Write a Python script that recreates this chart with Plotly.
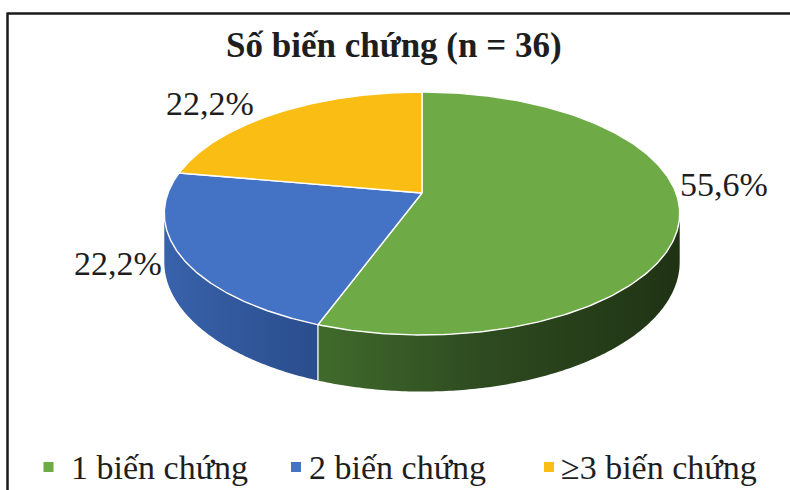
import numpy as np
import plotly.graph_objects as go

# ---- data ----
categories = ["1 biến chứng", "2 biến chứng", "≥3 biến chứng"]
percent = [55.6, 22.2, 22.2]
title_text = "Số biến chứng (n = 36)"

# ---- styles ----
top_colors = ["#6eab46", "#4472c4", "#fabd14"]
side_scales = [
    [[0, "#406a2c"], [0.45, "#2e4b20"], [1, "#1f3314"]],
    [[0, "#3862ab"], [1, "#2a4d8c"]],
    [[0, "#c08f0c"], [1, "#9c7408"]],
]
FONT = "Liberation Serif"
TEXT_COLOR = "#1e1e1e"

# 3-D pie geometry (pixel space of the 790x490 canvas)
CX, CY = 422.0, 193.0      # projected centre of the top face
RX, RY = 254.0, 118.0      # radii of the top face
P = 0.169                  # perspective strength (back shrinks, front grows)
DEPTH = 47.0               # thickness of the disc

# label placement: shift from the rim point at the slice's mid-angle
label_shift = [(-2, 30, "left"), (-18, -6, "right"), (-22, 9, "right")]
# legend layout: square centre x, text start x
legend_pos = [(48.5, 69), (296, 307), (549, 559)]
LEGEND_Y = 467


def proj(theta_deg, drop=0.0):
    t = np.radians(theta_deg)
    k = 1.0 / (1.0 + P * np.cos(t))
    x = CX + RX * np.sin(t) * k
    y = CY - RY * np.cos(t) * k + drop * k
    return x, y


total = sum(percent)
bounds = np.concatenate([[0.0], np.cumsum(percent) / total * 360.0])
theta_r = np.degrees(np.arccos(-P))   # right silhouette of the side wall
theta_l = 360.0 - theta_r             # left silhouette

fig = go.Figure()

# side walls (visible front part only)
for i in range(len(percent)):
    a, b = bounds[i], bounds[i + 1]
    s, e = max(a, theta_r), min(b, theta_l)
    if s >= e:
        continue
    th = np.linspace(s, e, 160)
    xt, yt = proj(th)
    xb, yb = proj(th, DEPTH)
    xs = np.concatenate([xt, xb[::-1]])
    ys = np.concatenate([yt, yb[::-1]])
    fig.add_trace(go.Scatter(
        x=xs, y=ys, mode="none", fill="toself",
        fillcolor=side_scales[i][0][1],
        fillgradient=dict(type="horizontal", colorscale=side_scales[i]),
        hoverinfo="skip", showlegend=False,
    ))

# white seams between slices on the side wall
for ang in bounds[1:-1]:
    if theta_r < ang < theta_l:
        x0, y0 = proj(ang)
        x1, y1 = proj(ang, DEPTH)
        fig.add_trace(go.Scatter(
            x=[x0, x1], y=[y0, y1], mode="lines",
            line=dict(color="white", width=1.3),
            hoverinfo="skip", showlegend=False,
        ))

# top faces
for i in range(len(percent)):
    a, b = bounds[i], bounds[i + 1]
    th = np.linspace(a, b, 240)
    xa, ya = proj(th)
    xs = np.concatenate([[CX], xa, [CX]])
    ys = np.concatenate([[CY], ya, [CY]])
    fig.add_trace(go.Scatter(
        x=xs, y=ys, mode="lines", fill="toself",
        fillcolor=top_colors[i],
        line=dict(color="white", width=1.4),
        name=categories[i], hoverinfo="name", showlegend=False,
    ))

annotations = []
# percentage labels
for i, v in enumerate(percent):
    mid = (bounds[i] + bounds[i + 1]) / 2
    x, y = proj(mid)
    dx, dy, anchor = label_shift[i]
    annotations.append(dict(
        x=float(x), y=float(y), xref="x", yref="y",
        text=f"{v:.1f}".replace(".", ",") + "%",
        showarrow=False, xanchor=anchor, yanchor="middle",
        xshift=dx, yshift=dy,
        font=dict(family=FONT, size=34, color=TEXT_COLOR),
    ))

# title
annotations.append(dict(
    x=394, y=45, xref="x", yref="y", text=f"<b>{title_text}</b>",
    showarrow=False, xanchor="center", yanchor="middle",
    font=dict(family=FONT, size=35, color=TEXT_COLOR),
))

shapes = []
# legend
for i, name in enumerate(categories):
    sx, tx = legend_pos[i]
    shapes.append(dict(type="rect", xref="x", yref="y",
                       x0=sx - 5, x1=sx + 5, y0=LEGEND_Y - 5, y1=LEGEND_Y + 5,
                       fillcolor=top_colors[i], line=dict(width=0)))
    annotations.append(dict(
        x=tx, y=LEGEND_Y, xref="x", yref="y", text=name,
        showarrow=False, xanchor="left", yanchor="middle",
        font=dict(family=FONT, size=34, color=TEXT_COLOR),
    ))

# frame lines (top and left)
shapes.append(dict(type="line", xref="x", yref="y", x0=7.5, y0=13.5, x1=790, y1=13.5,
                   line=dict(color="#1a1a1a", width=2.5)))
shapes.append(dict(type="line", xref="x", yref="y", x0=7.5, y0=12.5, x1=7.5, y1=490,
                   line=dict(color="#1a1a1a", width=2.5)))

fig.update_layout(
    width=790, height=490,
    margin=dict(l=0, r=0, t=0, b=0),
    paper_bgcolor="white", plot_bgcolor="white",
    xaxis=dict(range=[0, 790], visible=False, fixedrange=True),
    yaxis=dict(range=[490, 0], visible=False, fixedrange=True),
    annotations=annotations, shapes=shapes,
    showlegend=False,
)

fig.write_html("out.html")
